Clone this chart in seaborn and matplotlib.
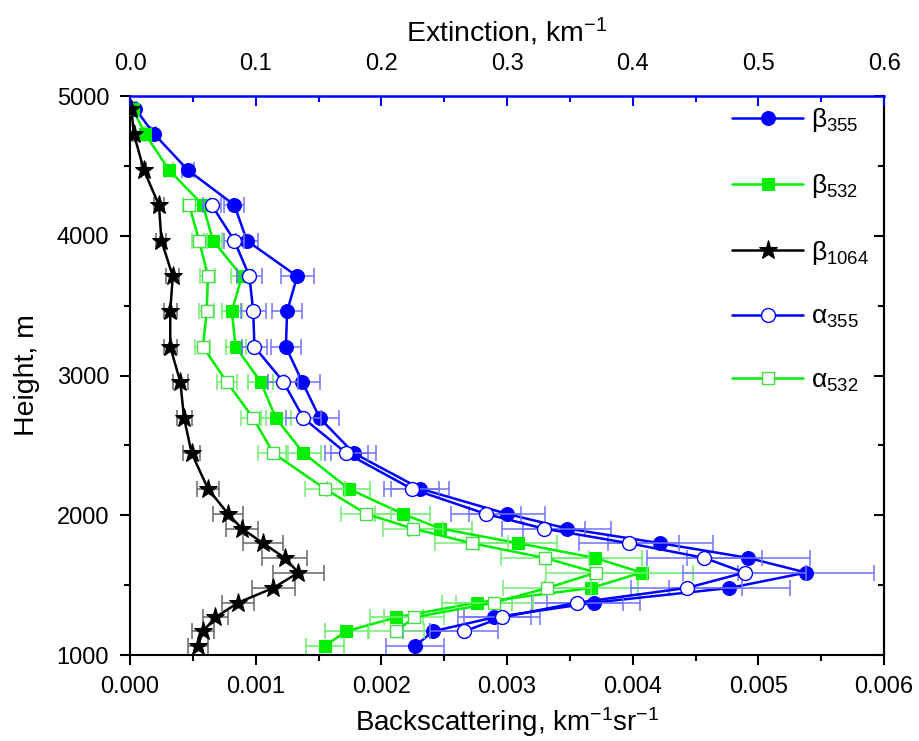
import matplotlib
matplotlib.use("Agg")
import matplotlib.pyplot as plt
import seaborn as sns
import pandas as pd
import numpy as np

# ---------------- data ----------------
height = [4910, 4730, 4470, 4220, 3965, 3710, 3460, 3205, 2955, 2695, 2445, 2190,
          2010, 1905, 1800, 1695, 1590, 1480, 1375, 1270, 1170, 1065]

beta355 = [0.00004, 0.00019, 0.00046, 0.00083, 0.00093, 0.00133, 0.00125, 0.00124,
           0.00137, 0.00151, 0.00178, 0.00231, 0.00300, 0.00348, 0.00422, 0.00492,
           0.00538, 0.00477, 0.00369, 0.00290, 0.00241, 0.00227]
beta355_err = [0.00001, 0.00002, 0.00005, 0.00008, 0.00009, 0.00013, 0.00012, 0.00012,
               0.00014, 0.00015, 0.00018, 0.00023, 0.00030, 0.00035, 0.00042, 0.00049,
               0.00054, 0.00048, 0.00037, 0.00029, 0.00024, 0.00023]

beta532 = [0.00002, 0.00012, 0.00031, 0.00058, 0.00066, 0.00089, 0.00081, 0.00084,
           0.00104, 0.00116, 0.00138, 0.00174, 0.00217, 0.00247, 0.00309, 0.00370,
           0.00407, 0.00367, 0.00276, 0.00212, 0.00172, 0.00155]
beta532_err = [0.00001, 0.00001, 0.00003, 0.00006, 0.00007, 0.00009, 0.00008, 0.00008,
               0.00010, 0.00012, 0.00014, 0.00017, 0.00022, 0.00025, 0.00031, 0.00037,
               0.00041, 0.00037, 0.00028, 0.00021, 0.00017, 0.00015]

beta1064 = [0.00001, 0.00003, 0.00011, 0.00023, 0.00025, 0.00034, 0.00032, 0.00032,
            0.00040, 0.00043, 0.00049, 0.00062, 0.00078, 0.00089, 0.00106, 0.00123,
            0.00134, 0.00114, 0.00086, 0.00068, 0.00058, 0.00054]
beta1064_err = [0.000005, 0.00001, 0.00002, 0.00004, 0.00004, 0.00005, 0.00005, 0.00005,
                0.00006, 0.00006, 0.00007, 0.00009, 0.00012, 0.00013, 0.00016, 0.00018,
                0.00020, 0.00017, 0.00013, 0.00010, 0.00009, 0.00008]

height_alpha = [4220, 3965, 3710, 3460, 3205, 2955, 2695, 2445, 2190,
                2010, 1905, 1800, 1695, 1590, 1480, 1375, 1270, 1170]
alpha355 = [0.065, 0.083, 0.095, 0.098, 0.099, 0.122, 0.138, 0.172, 0.224,
            0.283, 0.329, 0.397, 0.457, 0.489, 0.443, 0.356, 0.296, 0.266]
alpha355_err = [0.007, 0.008, 0.010, 0.010, 0.010, 0.012, 0.014, 0.017, 0.022,
                0.028, 0.033, 0.040, 0.046, 0.049, 0.044, 0.036, 0.030, 0.027]
alpha532 = [0.047, 0.055, 0.062, 0.061, 0.058, 0.077, 0.098, 0.114, 0.155,
            0.188, 0.225, 0.272, 0.330, 0.371, 0.332, 0.290, 0.226, 0.212]
alpha532_err = [0.005, 0.006, 0.006, 0.006, 0.006, 0.008, 0.010, 0.012, 0.016,
                0.020, 0.024, 0.029, 0.035, 0.040, 0.035, 0.031, 0.024, 0.022]

x_ticks = [0.000, 0.001, 0.002, 0.003, 0.004, 0.005, 0.006]
x_ticklabels = ["0.000", "0.001", "0.002", "0.003", "0.004", "0.005", "0.006"]
top_ticks = [0.0, 0.1, 0.2, 0.3, 0.4, 0.5, 0.6]
top_ticklabels = ["0.0", "0.1", "0.2", "0.3", "0.4", "0.5", "0.6"]
y_ticks = [1000, 2000, 3000, 4000, 5000]

# ---------------- style ----------------
sns.set_style("ticks")
plt.rcParams["font.family"] = ["Liberation Sans", "DejaVu Sans"]
plt.rcParams["mathtext.fontset"] = "custom"
plt.rcParams["mathtext.rm"] = "Liberation Sans"
plt.rcParams["mathtext.it"] = "Liberation Sans:italic"
plt.rcParams["mathtext.bf"] = "Liberation Sans:bold"
plt.rcParams["text.color"] = "black"
plt.rcParams["axes.labelcolor"] = "black"
plt.rcParams["xtick.color"] = "black"
plt.rcParams["ytick.color"] = "black"

BLUE = "#0000FF"
GREEN = "#00EE00"
BLACK = "#000000"

fig = plt.figure(figsize=(9.19, 7.41), dpi=100)
ax = fig.add_axes([0.1415, 0.116, 0.8205, 0.7544])
ax2 = ax.twiny()

ebkw = dict(fmt="none", capsize=6, elinewidth=1.1, capthick=1.1, zorder=1)

# backscatter errors
ax.errorbar(beta355, height, xerr=beta355_err, ecolor="#7373ff", **ebkw)
ax.errorbar(beta532, height, xerr=beta532_err, ecolor="#66ee66", **ebkw)
ax.errorbar(beta1064, height, xerr=beta1064_err, ecolor="#666666", **ebkw)

df_b = pd.DataFrame({"h": height, "b355": beta355, "b532": beta532, "b1064": beta1064})
sns.lineplot(data=df_b, x="b355", y="h", sort=False, estimator=None, ax=ax,
             color=BLUE, lw=1.8, marker="o", ms=10, mfc=BLUE, mec=BLUE,
             label="β$_{355}$", legend=False, zorder=3)
sns.lineplot(data=df_b, x="b532", y="h", sort=False, estimator=None, ax=ax,
             color=GREEN, lw=1.8, marker="s", ms=9, mfc=GREEN, mec=GREEN,
             label="β$_{532}$", legend=False, zorder=3)
sns.lineplot(data=df_b, x="b1064", y="h", sort=False, estimator=None, ax=ax,
             color=BLACK, lw=1.8, marker="*", ms=14, mfc=BLACK, mec=BLACK,
             label="β$_{1064}$", legend=False, zorder=3)

# extinction on top axis
ax2.errorbar(alpha355, height_alpha, xerr=alpha355_err, ecolor="#7373ff", **ebkw)
ax2.errorbar(alpha532, height_alpha, xerr=alpha532_err, ecolor="#77ee77", **ebkw)
df_a = pd.DataFrame({"h": height_alpha, "a355": alpha355, "a532": alpha532})
sns.lineplot(data=df_a, x="a355", y="h", sort=False, estimator=None, ax=ax2,
             color=BLUE, lw=1.8, marker="o", ms=10, mfc="white", mec=BLUE, mew=1.0,
             label="α$_{355}$", legend=False, zorder=3)
sns.lineplot(data=df_a, x="a532", y="h", sort=False, estimator=None, ax=ax2,
             color=GREEN, lw=1.8, marker="s", ms=9, mfc="white", mec="#44dd44", mew=1.0,
             label="α$_{532}$", legend=False, zorder=3)

# ---------------- axes ----------------
ax.set_xlim(0, 0.006)
ax.set_ylim(1000, 5000)
ax2.set_xlim(0, 0.6)
ax.set_xticks(x_ticks)
ax.set_xticks(np.arange(0.0005, 0.006, 0.001), minor=True)
ax.set_xticklabels(x_ticklabels)
ax.set_yticks(y_ticks)
ax.set_yticks([1500, 2500, 3500, 4500], minor=True)
ax2.set_xticks(top_ticks)
ax2.set_xticks(np.arange(0.05, 0.6, 0.1), minor=True)
ax2.set_xticklabels(top_ticklabels)

ax.tick_params(axis="both", which="major", direction="out", length=7, width=1.5,
               labelsize=17, color="black", labelcolor="black", top=False, right=False)
ax.tick_params(axis="x", which="major", pad=8)
ax.tick_params(axis="y", which="major", pad=8)
ax.tick_params(axis="both", which="minor", direction="out", length=4, width=1.5,
               top=False, right=False)
ax2.tick_params(axis="x", which="major", direction="in", length=7, width=1.5,
                color=BLUE, labelcolor="black", labelsize=17, pad=15)
ax2.tick_params(axis="x", which="minor", direction="in", length=4, width=1.5, color=BLUE)

sec = ax.secondary_yaxis("right")
sec.set_yticks(y_ticks)
sec.set_yticks([1500, 2500, 3500, 4500], minor=True)
sec.tick_params(which="major", direction="in", length=7, width=1.5, labelright=False)
sec.tick_params(which="minor", direction="in", length=4, width=1.5)
sec.spines["right"].set_linewidth(1.5)

for s in ["left", "bottom", "right"]:
    ax.spines[s].set_linewidth(1.5)
    ax.spines[s].set_color("black")
ax.spines["top"].set_visible(False)
for s in ["left", "bottom", "right"]:
    ax2.spines[s].set_visible(False)
ax2.spines["top"].set_color(BLUE)
ax2.spines["top"].set_linewidth(1.8)

ax.set_xlabel(r"Backscattering, km$^{-1}$sr$^{-1}$", fontsize=20, labelpad=5)
ax.set_ylabel("Height, m", fontsize=20.5, labelpad=12)
ax2.set_xlabel(r"Extinction, km$^{-1}$", fontsize=20.5, labelpad=8)

handles = [l for l in ax.lines if l.get_label()[0] in "βα"]
handles += [l for l in ax2.lines if l.get_label()[0] in "βα"]
leg = ax2.legend(handles=handles, labels=[h.get_label() for h in handles],
                 loc="upper right", bbox_to_anchor=(1.005, 1.015), frameon=False,
                 fontsize=19, handlelength=2.7, labelspacing=1.45, handletextpad=0.3,
                 borderaxespad=0.3)

fig.savefig("out.png", dpi=100)
